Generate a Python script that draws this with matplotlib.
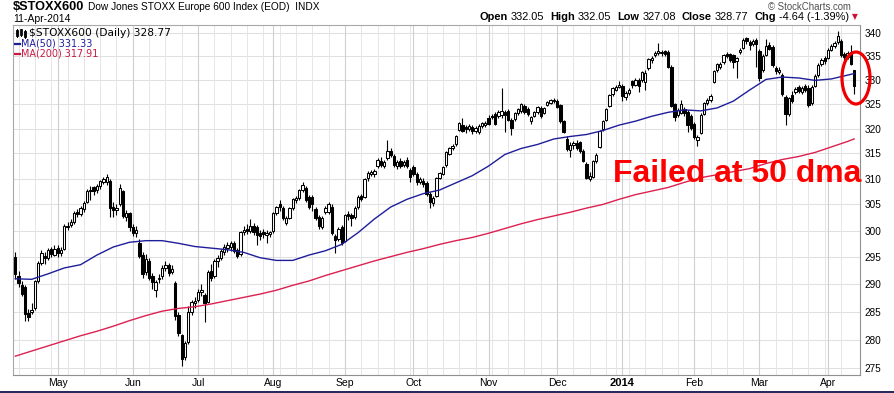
import matplotlib
matplotlib.use('Agg')
import matplotlib.pyplot as plt
import numpy as np
import pandas as pd
from matplotlib.patches import Ellipse, Rectangle
from matplotlib.lines import Line2D
from matplotlib.ticker import FixedLocator, NullLocator

plt.rcParams['font.family'] = ['Liberation Sans', 'DejaVu Sans']

W, H = 895, 393

# ---------------- data ----------------
opens = [295.0, 291.5, 289.8, 289.4, 284.7, 285.0, 285.6, 290.6, 294.0, 295.3,
         294.9, 296.5, 295.5, 296.8, 295.8, 296.6, 300.9, 301.0, 301.6, 303.6,
         303.2, 304.2, 305.5, 307.6, 308.3, 307.8, 308.5, 309.4, 309.3, 309.6,
         304.6, 304.0, 305.0, 307.6, 302.6, 303.4, 300.6, 299.6, 297.6, 295.4,
         292.2, 294.3, 291.6, 288.9, 291.0, 291.6, 293.0, 293.5, 292.3, 290.3,
         284.4, 280.8, 277.0, 279.6, 285.0, 286.6, 287.2, 288.6, 288.0, 286.8,
         292.4, 291.6, 294.2, 294.9, 296.0, 296.8, 297.0, 297.6, 296.4, 295.6,
         299.8, 300.4, 300.0, 300.9, 300.6, 299.6, 299.8, 299.2, 299.3, 299.9,
         303.4, 305.0, 304.3, 301.5, 302.4, 304.3, 305.8, 306.2, 307.8, 308.2,
         306.5, 306.4, 304.2, 302.6, 300.7, 303.5, 303.6, 304.6, 299.0, 298.4,
         300.6, 298.0, 303.2, 303.0, 302.6, 304.5, 306.6, 306.4, 310.2, 311.0,
         310.9, 312.5, 313.6, 312.6, 314.0, 315.4, 314.4, 312.5, 313.6, 312.8,
         313.8, 311.8, 312.4, 311.0, 309.4, 309.6, 309.2, 307.0, 305.2, 306.7,
         310.2, 311.0, 312.7, 314.9, 316.0, 316.8, 319.8, 320.8, 320.4, 320.0,
         320.4, 319.6, 319.3, 320.6, 320.8, 322.2, 322.6, 323.0, 322.5, 322.8,
         323.4, 323.6, 321.8, 321.9, 323.1, 323.5, 324.6, 324.0, 321.6, 322.6,
         323.3, 324.2, 323.2, 324.8, 325.3, 325.6, 325.7, 324.8, 321.5, 317.8,
         315.6, 316.6, 317.0, 317.2, 315.4, 313.0, 310.0, 310.4, 313.5, 316.2,
         319.9, 321.8, 324.5, 327.0, 328.0, 328.6, 328.8, 326.4, 327.2, 329.7,
         329.0, 330.0, 330.0, 329.6, 332.4, 334.2, 335.2, 335.6, 335.6, 336.0,
         335.8, 332.8, 325.0, 322.8, 323.2, 324.0, 323.4, 322.5, 321.0, 317.6,
         319.2, 323.0, 325.3, 325.8, 329.6, 332.0, 332.8, 333.7, 335.4, 335.4,
         335.2, 334.0, 335.8, 336.8, 338.8, 338.0, 337.6, 338.4, 336.0, 332.0,
         335.2, 337.4, 337.0, 332.5, 331.6, 331.0, 326.5, 323.0, 326.8, 327.4,
         328.6, 327.4, 328.8, 328.4, 325.2, 328.8, 331.0, 333.4, 334.6, 334.6,
         336.4, 337.2, 337.9, 338.2, 335.4, 334.8, 335.9, 332.05]
highs = [296.0, 292.5, 290.5, 289.8, 285.5, 286.6, 290.8, 294.3, 296.3, 296.0,
         296.8, 297.0, 297.2, 297.3, 297.0, 301.2, 301.6, 302.2, 303.8, 304.2,
         304.8, 305.7, 308.0, 308.5, 308.6, 308.9, 309.8, 310.4, 311.0, 310.0,
         305.5, 305.0, 309.0, 307.9, 304.0, 303.6, 301.3, 300.8, 298.4, 296.0,
         295.6, 294.8, 292.0, 290.8, 291.8, 293.6, 294.2, 294.0, 293.6, 290.5,
         285.0, 281.0, 279.8, 286.0, 287.2, 287.6, 289.2, 290.0, 288.4, 292.6,
         293.8, 294.6, 295.4, 296.6, 297.4, 297.8, 298.0, 298.0, 296.8, 300.0,
         300.8, 301.2, 302.3, 301.4, 301.0, 300.2, 300.4, 300.2, 300.0, 303.6,
         304.8, 305.8, 304.8, 302.8, 304.6, 306.2, 306.6, 308.0, 309.4, 308.5,
         306.9, 306.8, 304.6, 303.0, 302.8, 304.8, 305.4, 305.0, 299.4, 300.6,
         301.0, 303.2, 303.8, 303.3, 304.7, 306.8, 307.0, 310.1, 311.5, 311.8,
         311.9, 314.0, 314.2, 313.8, 317.6, 316.0, 314.8, 313.8, 314.0, 313.8,
         314.2, 312.2, 312.8, 311.4, 310.4, 310.2, 309.6, 307.4, 306.6, 310.4,
         311.4, 312.6, 315.5, 316.3, 316.8, 318.8, 321.4, 322.2, 320.8, 320.9,
         320.8, 320.5, 320.9, 321.4, 321.6, 322.8, 323.0, 323.4, 323.7, 328.3,
         323.8, 324.0, 322.2, 323.3, 324.2, 325.2, 325.0, 324.3, 322.6, 323.6,
         324.6, 324.6, 324.4, 325.6, 326.1, 326.2, 326.0, 325.1, 321.8, 318.4,
         317.2, 317.4, 317.6, 317.5, 315.8, 313.4, 311.4, 313.7, 315.0, 319.8,
         321.8, 324.2, 327.0, 328.6, 328.9, 329.8, 329.2, 327.6, 328.3, 330.0,
         330.3, 330.5, 331.9, 332.0, 334.7, 335.0, 336.0, 337.8, 336.3, 336.4,
         336.2, 333.1, 325.3, 324.2, 325.8, 324.4, 323.8, 323.0, 321.4, 318.6,
         323.1, 325.5, 326.2, 327.0, 332.1, 333.6, 333.8, 335.4, 335.9, 335.7,
         335.5, 334.9, 336.7, 338.8, 339.1, 338.4, 338.6, 338.8, 336.6, 335.4,
         338.6, 338.0, 337.4, 333.0, 332.6, 331.4, 326.9, 326.5, 327.6, 328.6,
         329.0, 328.8, 329.2, 328.9, 328.9, 331.2, 333.5, 334.7, 335.0, 336.8,
         337.6, 338.2, 340.3, 338.6, 335.8, 336.0, 337.4, 332.05]
lows = [291.0, 289.5, 287.8, 283.4, 283.3, 284.6, 285.3, 290.2, 293.5, 293.8,
        294.5, 295.0, 295.2, 295.0, 295.2, 296.4, 300.2, 300.6, 301.2, 302.6,
        302.8, 303.6, 305.2, 305.8, 306.8, 307.2, 308.0, 308.9, 308.8, 302.5,
        302.6, 303.0, 304.7, 302.4, 301.8, 300.0, 299.0, 298.8, 294.8, 291.2,
        291.7, 290.8, 289.2, 287.6, 290.2, 291.0, 292.4, 291.6, 291.8, 283.6,
        280.6, 275.4, 276.4, 279.2, 284.4, 285.6, 286.8, 287.8, 283.2, 286.5,
        290.6, 291.2, 293.2, 294.4, 295.4, 296.0, 296.2, 295.8, 294.8, 295.2,
        299.2, 299.4, 299.6, 299.2, 297.2, 298.2, 298.6, 297.6, 298.8, 299.6,
        303.0, 303.8, 302.0, 301.0, 302.2, 304.0, 305.2, 305.8, 307.4, 305.4,
        304.2, 303.7, 302.0, 300.4, 300.3, 303.2, 303.2, 299.2, 295.7, 298.0,
        297.2, 297.8, 302.0, 300.8, 302.2, 304.2, 305.6, 306.2, 309.6, 310.5,
        310.4, 312.2, 312.3, 312.2, 313.8, 314.2, 312.4, 312.0, 312.2, 312.4,
        312.2, 309.3, 310.6, 308.8, 309.0, 308.4, 306.6, 304.4, 304.8, 306.5,
        309.9, 310.8, 312.4, 314.6, 315.6, 316.5, 319.5, 319.3, 319.2, 319.5,
        319.0, 319.2, 319.0, 320.2, 320.4, 320.7, 322.0, 320.7, 322.2, 322.2,
        319.4, 321.5, 318.6, 321.6, 322.8, 323.2, 323.0, 322.6, 321.0, 322.3,
        323.0, 322.2, 322.9, 324.5, 325.0, 325.2, 324.1, 321.2, 319.1, 315.5,
        314.3, 315.9, 315.6, 315.1, 313.3, 309.9, 309.6, 310.1, 313.2, 316.0,
        319.6, 321.6, 324.3, 326.7, 327.6, 328.3, 325.6, 325.9, 326.8, 328.4,
        328.7, 327.5, 329.6, 327.8, 332.0, 333.6, 334.8, 335.2, 335.0, 335.0,
        332.5, 324.3, 321.6, 322.4, 322.9, 322.6, 319.4, 319.8, 317.9, 316.4,
        318.9, 322.7, 324.8, 325.4, 329.3, 331.6, 332.3, 333.4, 334.6, 333.8,
        332.4, 330.5, 335.4, 336.5, 337.6, 336.2, 337.2, 332.6, 329.8, 331.6,
        335.0, 336.2, 332.8, 331.2, 331.2, 326.6, 320.8, 322.6, 325.2, 327.0,
        327.2, 327.0, 327.4, 324.4, 324.9, 328.5, 330.7, 333.0, 333.4, 334.3,
        336.0, 336.8, 337.6, 334.8, 334.2, 334.4, 333.2, 327.08]
closes = [291.8, 290.2, 288.3, 284.6, 284.1, 285.4, 290.5, 294.0, 295.8, 294.8,
          296.3, 295.6, 296.6, 295.8, 296.3, 300.8, 300.7, 301.7, 303.4, 303.2,
          304.4, 305.3, 307.6, 307.9, 307.6, 308.5, 309.5, 310.0, 310.4, 304.4,
          304.0, 304.3, 308.2, 302.7, 303.4, 300.6, 299.6, 300.1, 295.2, 291.8,
          294.7, 291.2, 290.4, 290.4, 291.2, 293.0, 293.6, 292.1, 292.8, 284.2,
          281.2, 276.6, 279.4, 285.0, 286.7, 287.0, 288.6, 288.9, 286.6, 292.2,
          291.2, 294.2, 294.8, 296.2, 297.0, 297.3, 297.6, 296.2, 295.2, 299.7,
          300.2, 300.0, 300.8, 299.8, 299.2, 299.0, 299.4, 299.6, 299.7, 303.3,
          304.5, 304.6, 302.4, 302.4, 304.3, 306.0, 306.3, 307.8, 308.8, 305.8,
          304.5, 305.0, 302.4, 300.8, 302.4, 304.3, 305.0, 299.6, 298.2, 300.3,
          297.6, 302.9, 302.7, 302.4, 304.4, 306.5, 306.1, 309.9, 311.2, 311.4,
          311.5, 313.7, 312.7, 313.4, 315.4, 314.6, 312.8, 313.3, 312.6, 313.4,
          312.6, 310.4, 311.0, 309.4, 310.0, 309.0, 307.0, 305.4, 306.2, 310.2,
          311.2, 312.3, 315.3, 316.0, 316.4, 318.5, 321.2, 319.6, 320.0, 320.5,
          319.5, 320.2, 320.6, 321.1, 321.2, 321.0, 322.3, 321.0, 323.4, 323.6,
          322.8, 321.8, 320.2, 323.1, 323.9, 325.0, 323.3, 322.9, 322.3, 323.3,
          324.4, 322.5, 324.1, 325.4, 325.8, 325.9, 324.4, 321.5, 319.4, 315.8,
          316.6, 317.0, 316.0, 315.4, 313.6, 310.2, 310.6, 313.5, 314.6, 319.6,
          321.6, 324.0, 326.8, 328.3, 328.5, 329.0, 326.6, 327.3, 328.0, 328.9,
          330.0, 328.7, 331.6, 331.4, 334.4, 334.6, 335.6, 336.0, 335.9, 335.5,
          332.8, 324.6, 322.4, 323.8, 325.0, 323.1, 320.8, 320.2, 318.2, 318.2,
          322.8, 325.3, 325.8, 326.6, 331.8, 333.4, 333.3, 335.2, 335.0, 334.2,
          333.8, 334.6, 336.4, 338.5, 338.2, 337.4, 338.3, 337.6, 330.4, 335.0,
          337.2, 336.6, 333.2, 331.8, 332.0, 327.0, 323.0, 326.2, 325.6, 328.2,
          327.6, 328.4, 327.8, 324.8, 328.6, 330.8, 333.2, 334.2, 334.0, 336.4,
          337.2, 337.8, 339.3, 335.2, 334.8, 335.6, 333.41, 328.77]

ma_idx = list(range(0, 256, 5)) + [257]
ma50 = [291.0, 290.9, 291.9, 293.0, 293.6, 295.4, 296.9, 297.8, 298.1, 298.1,
        297.6, 297.0, 296.7, 296.4, 295.9, 294.9, 294.4, 294.4, 295.4, 296.2,
        297.4, 299.6, 302.2, 304.5, 306.0, 307.1, 307.8, 309.2, 310.6, 312.5,
        314.8, 316.0, 316.8, 317.9, 318.4, 318.8, 319.6, 320.7, 321.5, 322.5,
        323.3, 323.8, 323.6, 324.2, 325.6, 327.9, 330.1, 330.6, 330.4, 329.9,
        330.2, 331.0, 331.33]
ma200 = [277.1, 278.0, 278.9, 279.8, 280.7, 281.5, 282.4, 283.4, 284.3, 285.1,
         285.6, 285.9, 286.4, 287.0, 287.6, 288.2, 288.9, 289.8, 290.6, 291.6,
         292.5, 293.4, 294.3, 295.1, 295.9, 296.6, 297.4, 298.1, 298.7, 299.5,
         300.4, 301.3, 302.1, 302.8, 303.5, 304.3, 305.0, 306.0, 306.9, 307.6,
         308.3, 309.3, 310.2, 310.8, 311.4, 312.0, 313.0, 313.8, 314.4, 315.2,
         316.3, 317.4, 317.91]

y_ticks = [275, 280, 285, 290, 295, 300, 305, 310, 315, 320, 325, 330, 335, 340]
month_names = {1: '2014', 2: 'Feb', 3: 'Mar', 4: 'Apr', 5: 'May', 6: 'Jun',
               7: 'Jul', 8: 'Aug', 9: 'Sep', 10: 'Oct', 11: 'Nov', 12: 'Dec'}
holidays = ['2013-12-25', '2013-12-26', '2014-01-01']

dates = pd.bdate_range('2013-04-12', '2014-04-11')
dates = dates[~dates.isin(pd.to_datetime(holidays))]
n = min(len(dates), len(closes))
dates = dates[:n]

# ---------------- figure ----------------
def fx(x):
    return x / W

def fy(y):
    return 1 - y / H

fig = plt.figure(figsize=(W / 100, H / 100), dpi=100)
fig.patch.set_facecolor('white')
L, R, T, B = 13, 860, 25, 375
ax = fig.add_axes([L / W, 1 - B / H, (R - L) / W, (B - T) / H])
ax.set_yscale('log')
ax.set_ylim(273.82, 341.66)
ax.set_xlim(-0.705, 258.8)

# grid
for v in y_ticks:
    ax.axhline(v, color='#e0e0e0', lw=0.75, zorder=0)
month_idx, month_lab, week_idx = [], [], []
for i in range(n):
    if i > 0 and dates[i].month != dates[i - 1].month:
        month_idx.append(i)
        month_lab.append(month_names[dates[i].month])
    elif i > 0 and dates[i].weekday() < dates[i - 1].weekday():
        week_idx.append(i)
for i in week_idx:
    ax.axvline(i, color='#e6e6e6', lw=0.7, zorder=0)
for i in month_idx:
    ax.axvline(i, color='#cfcfcf', lw=0.8, zorder=0)

# candles
x = np.arange(n)
o = np.array(opens[:n]); c = np.array(closes[:n])
hi = np.array(highs[:n]); lo = np.array(lows[:n])
up = c >= o
ax.vlines(x, lo, hi, color='black', lw=0.8, zorder=3)
blo = np.minimum(o, c)
bh = np.maximum(np.abs(c - o), 0.15)
ax.bar(x[up], bh[up], bottom=blo[up], width=0.72, facecolor='white',
       edgecolor='black', linewidth=0.75, zorder=4)
ax.bar(x[~up], bh[~up], bottom=blo[~up], width=0.72, facecolor='black',
       edgecolor='black', linewidth=0.75, zorder=4)

# moving averages
ax.plot(ma_idx, ma50, color='#1e1e9a', lw=1.0, zorder=5)
ax.plot(ma_idx, ma200, color='#dc2050', lw=1.0, zorder=5)

# axes formatting
ax.yaxis.tick_right()
ax.yaxis.set_major_locator(FixedLocator(y_ticks))
ax.yaxis.set_minor_locator(NullLocator())
ax.set_yticklabels([str(v) for v in y_ticks])
ax.tick_params(axis='y', length=0, pad=3, labelsize=7.2, colors='black')
ax.set_xticks(month_idx)
ax.set_xticklabels(month_lab)
ax.tick_params(axis='x', length=0, pad=2.5, labelsize=7.5)
for lab in ax.get_xticklabels():
    if lab.get_text() == '2014':
        lab.set_fontweight('bold')
        lab.set_fontsize(8)
for s in ['top', 'left']:
    ax.spines[s].set_color('#a8a8a8'); ax.spines[s].set_linewidth(0.8)
for s in ['bottom', 'right']:
    ax.spines[s].set_color('#909090'); ax.spines[s].set_linewidth(0.8)
    ax.spines[s].set_linestyle((0, (1, 1)))

# ---------------- header texts ----------------
t1 = fig.text(fx(13), fy(10), '$STOXX600', fontsize=9.2, fontweight='bold', va='baseline')
fig.canvas.draw()
r = fig.canvas.get_renderer()
w1 = t1.get_window_extent(r).width
fig.text(fx(13 + w1 + 4), fy(10), 'Dow Jones STOXX Europe 600 Index (EOD)  INDX',
         fontsize=7.3, va='baseline')
fig.text(fx(13), fy(22), '11-Apr-2014', fontsize=7.5, va='baseline')
fig.text(fx(851), fy(6.5), '\u00a9 StockCharts.com', fontsize=6.9, color='#505050',
         ha='right', va='center')

items = [('Open', 'bold', 3), ('332.05', 'normal', 6), ('High', 'bold', 3),
         ('332.05', 'normal', 6), ('Low', 'bold', 3), ('327.08', 'normal', 6),
         ('Close', 'bold', 3), ('328.77', 'normal', 6), ('Chg', 'bold', 3),
         ('-4.64 (-1.39%)', 'normal', 3)]
tx = []
for s, wgt, gap in items:
    t = fig.text(0, fy(17), s, fontsize=7.9, fontweight=wgt, va='center', ha='left')
    tx.append((t, gap))
tri = fig.text(0, fy(17), '\u25bc', fontsize=5.5, color='#cc1030', va='center', ha='left',
               family='DejaVu Sans')
fig.canvas.draw()
r = fig.canvas.get_renderer()
widths = [t.get_window_extent(r).width for t, _ in tx]
tw = tri.get_window_extent(r).width
total = sum(widths) + sum(g for _, g in tx) + tw
xx = 858 - total
for (t, g), wd in zip(tx, widths):
    t.set_x(fx(xx)); xx += wd + g
tri.set_x(fx(xx))

# legend inside plot
fig.text(fx(29), fy(33), '$STOXX600 (Daily) 328.77', fontsize=7.7, family='DejaVu Sans',
         va='center', ha='left', color='black')
fig.text(fx(21.5), fy(43.5), 'MA(50) 331.33', fontsize=6.9, family='DejaVu Sans',
         va='center', ha='left', color='#1e1e9a')
fig.text(fx(21.5), fy(53.5), 'MA(200) 317.91', fontsize=6.9, family='DejaVu Sans',
         va='center', ha='left', color='#c81840')
fig.add_artist(Line2D([fx(15), fx(20.5)], [fy(43.5), fy(43.5)], color='#1e1e9a', lw=1.6,
                      transform=fig.transFigure))
fig.add_artist(Line2D([fx(15), fx(20.5)], [fy(53.5), fy(53.5)], color='#c81840', lw=1.6,
                      transform=fig.transFigure))
# small candle icon
for (cx, top, bot, filled) in [(17, 30, 36, True), (21, 29.5, 35, False), (25, 31, 36.5, True)]:
    fig.add_artist(Line2D([fx(cx), fx(cx)], [fy(top - 1), fy(bot + 1)], color='black', lw=0.7,
                          transform=fig.transFigure))
    fig.add_artist(Rectangle((fx(cx - 1), fy(bot)), 2 / W, (bot - top) / H,
                             facecolor='black' if filled else 'white', edgecolor='black',
                             lw=0.6, transform=fig.transFigure))

# annotation
fig.text(fx(613), fy(182), 'Failed at 50 dma', fontsize=23, fontweight='bold',
         color='#ff0000', va='baseline', ha='left')
fig.add_artist(Ellipse((fx(856), fy(78)), 28 / W, 52 / H, facecolor='none',
                       edgecolor='#ee0000', lw=2.3, transform=fig.transFigure, zorder=10))

# bottom navy band
fig.add_artist(Rectangle((0, 0), 1, 2.5 / H, facecolor='#2a2a5c', edgecolor='none',
                         transform=fig.transFigure))

fig.savefig('out.png', dpi=100)
